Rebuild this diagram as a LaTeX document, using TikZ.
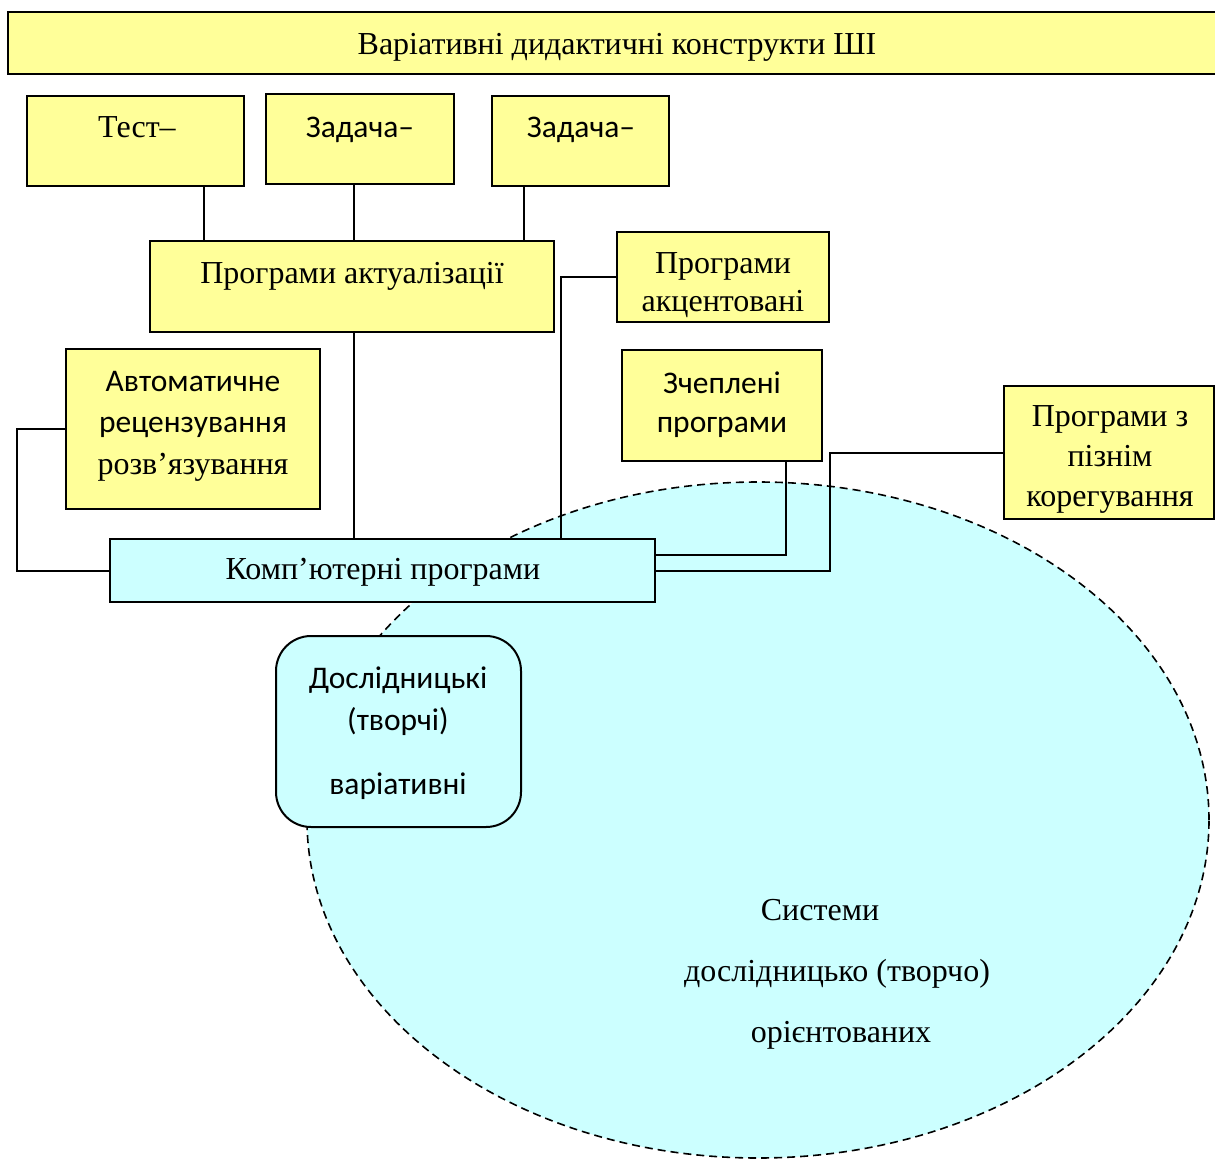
\documentclass[tikz,border=0pt]{standalone}
\usepackage{fontspec}
\usetikzlibrary{shapes.geometric}
\setmainfont{Liberation Serif}
\newfontfamily\calib{Carlito}
\definecolor{ylw}{HTML}{FFFF99}
\definecolor{cyn}{HTML}{CCFFFF}
\tikzset{
  ybox/.style={draw=black, fill=ylw, line width=2pt, inner sep=0pt, rectangle},
  cbox/.style={draw=black, fill=cyn, line width=2pt, inner sep=0pt, rectangle},
  conn/.style={draw=black, line width=2pt},
  sr/.style={inner sep=0pt, anchor=base, font=\fontsize{32}{38}\selectfont},
  sn/.style={inner sep=0pt, anchor=base, font=\calib\fontsize{31.5}{38}\selectfont},
}
\begin{document}
\begin{tikzpicture}[x=1pt,y=-1pt]
\useasboundingbox (0,0) rectangle (1215,1159);
% ellipse
\node[draw=black, dash pattern=on 8pt off 5pt, fill=cyn, line width=1.6pt, ellipse, inner sep=0pt, minimum width=902pt, minimum height=676pt] (ell) at (758,820) {};
% boxes
\node[ybox, minimum width=1214pt, minimum height=62pt] (title) at (615,43) {};
\node[ybox, minimum width=217pt, minimum height=90pt] (test) at (135.5,141) {};
\node[ybox, minimum width=188pt, minimum height=90pt] (zad1) at (360,139) {};
\node[ybox, minimum width=177pt, minimum height=90pt] (zad2) at (580.5,141) {};
\node[ybox, minimum width=404pt, minimum height=91pt] (akt) at (352,286.5) {};
\node[ybox, minimum width=212pt, minimum height=90pt] (akc) at (723,277) {};
\node[ybox, minimum width=254pt, minimum height=160pt] (avto) at (193,429) {};
\node[ybox, minimum width=200pt, minimum height=111pt] (zch) at (722,405.5) {};
\node[ybox, minimum width=210pt, minimum height=133pt] (pizn) at (1109,452.5) {};
\node[cbox, minimum width=545pt, minimum height=63pt] (komp) at (382.5,570.5) {};
\node[cbox, rounded corners=35pt, minimum width=245pt, minimum height=191pt] (dosl) at (398.5,731.5) {};
% helper coordinates
\coordinate (c1) at (204,0);
\coordinate (c2) at (354,0);
\coordinate (c3) at (524,0);
\coordinate (c5) at (561,0);
\coordinate (c9) at (786,555);
\coordinate (c8) at (830,571);
% connectors
\draw[conn] (test.south -| c1) -- (akt.north -| c1);
\draw[conn] (zad1.south -| c2) -- (akt.north -| c2);
\draw[conn] (zad2.south -| c3) -- (akt.north -| c3);
\draw[conn] (akt.south -| c2) -- (komp.north -| c2);
\draw[conn] (akc.west) -| (komp.north -| c5);
\draw[conn] (avto.west) -- ++(-48,0) |- (komp.west);
\draw[conn] (zch.south -| c9) -- (c9) -- (komp.east |- c9);
\draw[conn] (pizn.west) -| (c8) -- (komp.east |- c8);
% texts
\node[sr] (t-title) at (617,54) {Варіативні дидактичні конструкти ШІ};
\node[sr] (t-test) at (137,137) {Тест–};
\node[sn] (t-zad1) at (360,137) {Задача–};
\node[sn] (t-zad2) at (581,137) {Задача–};
\node[sr] (t-akt) at (352,283) {Програми актуалізації};
\node[sr] (t-akc1) at (723,273) {Програми};
\node[sr] (t-akc2) at (723,311) {акцентовані};
\node[sn] (t-avto1) at (193,391) {Автоматичне};
\node[sn] (t-avto2) at (193,432) {рецензування};
\node[sr] (t-avto3) at (193,474) {розв’язування};
\node[sr] (t-komp) at (383,579) {Комп’ютерні програми};
\node[sn] (t-zch1) at (722,393) {Зчеплені};
\node[sn] (t-zch2) at (722,432) {програми};
\node[sr] (t-pizn1) at (1110,426) {Програми з};
\node[sr] (t-pizn2) at (1110,466) {пізнім};
\node[sr] (t-pizn3) at (1110,506) {корегування};
\node[sn] (t-dosl1) at (398,688) {Дослідницькі};
\node[sn] (t-dosl2) at (398,730) {(творчі)};
\node[sn] (t-dosl3) at (398,794) {варіативні};
\node[sr] (t-sys1) at (820,920) {Системи};
\node[sr] (t-sys2) at (837,981) {дослідницько (творчо)};
\node[sr] (t-sys3) at (841,1042) {орієнтованих};
\end{tikzpicture}
\end{document}
